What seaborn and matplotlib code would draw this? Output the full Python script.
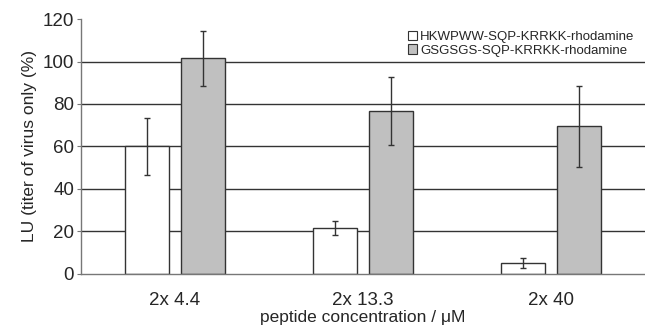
import numpy as np
import pandas as pd
import matplotlib
matplotlib.use("Agg")
import matplotlib.pyplot as plt
import seaborn as sns

# data
concentrations = ["2x 4.4", "2x 13.3", "2x 40"]
peptides = ["HKWPWW-SQP-KRRKK-rhodamine", "GSGSGS-SQP-KRRKK-rhodamine"]
hkwpww_lu = [60, 21.5, 5.3]
hkwpww_err = [13.5, 3.3, 2.3]
gsgsgs_lu = [101.5, 76.5, 69.5]
gsgsgs_err = [12.8, 16, 19]

df = pd.DataFrame({
    "conc": concentrations * 2,
    "peptide": [peptides[0]] * 3 + [peptides[1]] * 3,
    "lu": hkwpww_lu + gsgsgs_lu,
    "err": hkwpww_err + gsgsgs_err,
})

sns.set_style("white")
plt.rcParams["font.family"] = ["Liberation Sans", "DejaVu Sans"]

fig = plt.figure(figsize=(6.45, 3.34), dpi=100)
ax = fig.add_axes([0.1256, 0.18, 0.8744, 0.763])

# horizontal grid lines behind bars
for yv in [20, 40, 60, 80, 100]:
    ax.axhline(yv, color="#333333", lw=1.0, zorder=0)

sns.barplot(data=df, x="conc", y="lu", hue="peptide", order=concentrations,
            hue_order=peptides, palette=["white", "#c0c0c0"],
            edgecolor="#333333", linewidth=1.0, width=0.6, gap=0.23,
            errorbar=None, ax=ax, zorder=2)

# error bars at the bar centres
for container, errs in zip(ax.containers, [hkwpww_err, gsgsgs_err]):
    xs = [p.get_x() + p.get_width() / 2 for p in container.patches]
    ys = [p.get_height() for p in container.patches]
    ax.errorbar(xs, ys, yerr=errs, fmt="none", ecolor="#333333",
                elinewidth=1.0, capsize=2.5, capthick=1.0, zorder=3)

ax.set_xlim(-0.5, 2.5)
ax.set_ylim(0, 120)
ax.set_yticks(range(0, 121, 20))
ax.set_xticks([0.5, 1.5], minor=True)
ax.tick_params(axis="x", which="major", length=0, labelsize=13.5, pad=13)
ax.tick_params(axis="x", which="minor", length=3, color="#777777")
ax.tick_params(axis="y", length=3, color="#777777", labelsize=13.5, pad=2, left=True)

for side in ["top", "right"]:
    ax.spines[side].set_visible(False)
for side in ["left", "bottom"]:
    ax.spines[side].set_color("#777777")
    ax.spines[side].set_linewidth(1.0)

ax.set_xlabel("peptide concentration / \u03bcM", fontsize=12.5, labelpad=1)
ax.set_ylabel("LU (titer of virus only (%)", fontsize=12.5, labelpad=4)

leg = ax.legend(loc="upper right", bbox_to_anchor=(0.995, 0.985), frameon=False,
                fontsize=9.5, handlelength=0.7, handleheight=0.7,
                handletextpad=0.2, labelspacing=0.1, borderaxespad=0.2)
for h in leg.legend_handles:
    h.set_linewidth(0.8)

fig.savefig("out.png", dpi=100)
